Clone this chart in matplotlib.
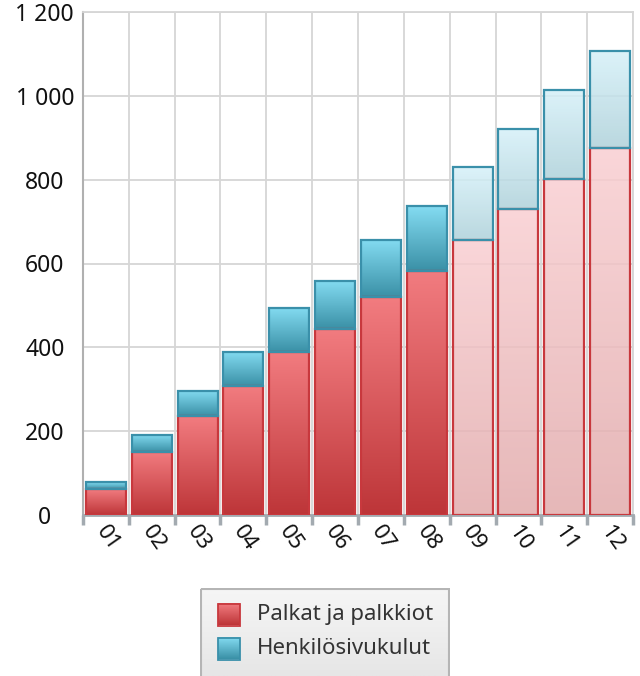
import numpy as np
import matplotlib
matplotlib.use("Agg")
import matplotlib.pyplot as plt
from matplotlib.patches import Rectangle
from matplotlib.colors import LinearSegmentedColormap

plt.rcParams['font.family'] = ['Noto Sans', 'DejaVu Sans']

months = ["01", "02", "03", "04", "05", "06", "07", "08", "09", "10", "11", "12"]
palkat = [62, 151, 235, 308, 389, 444, 520, 583, 657, 730, 802, 875]
sivukulut = [16, 41, 62, 82, 105, 115, 137, 154, 173, 192, 213, 232]
forecast = [False] * 8 + [True] * 4
series_names = ["Palkat ja palkkiot", "Henkilösivukulut"]
yticks = [0, 200, 400, 600, 800, 1000, 1200]

fig = plt.figure(figsize=(6.4, 6.76), dpi=100)
ax = fig.add_axes([83/640, 1 - 515/676, (633-83)/640, (515-12)/676])

n = len(months)

def grad(c_top, c_bot):
    return LinearSegmentedColormap.from_list("g", [c_bot, c_top])

red_actual = grad("#f27c80", "#bd3538")
blue_actual = grad("#84dcf2", "#3a90a6")
red_fc = grad("#f9cfd2", "#e2abac")
blue_fc = grad("#d6f1f9", "#aed1da")
g = np.linspace(0, 1, 256).reshape(-1, 1)

width = 0.87
for i in range(n):
    x0 = i - width / 2
    x1 = i + width / 2
    r = palkat[i]
    b = sivukulut[i]
    if forecast[i]:
        rc, bc, al = red_fc, blue_fc, 0.85
    else:
        rc, bc, al = red_actual, blue_actual, 1.0
    ax.imshow(g, cmap=rc, extent=[x0, x1, 0, r], origin="lower", aspect="auto",
              zorder=2, alpha=al, interpolation="bilinear")
    ax.add_patch(Rectangle((x0, 0), width, r, fill=False, edgecolor="#c8383d", lw=1.6, zorder=3))
    ax.imshow(g, cmap=bc, extent=[x0, x1, r, r + b], origin="lower", aspect="auto",
              zorder=2, alpha=al, interpolation="bilinear")
    ax.add_patch(Rectangle((x0, r), width, b, fill=False, edgecolor="#3a90aa", lw=1.6, zorder=3))

ax.set_xlim(-0.5, n - 0.5)
ax.set_ylim(0, 1200)

# grid
for yv in yticks[1:]:
    ax.axhline(yv, color="#d6d6d6", lw=1.3, zorder=1)
for xv in np.arange(0.5, n, 1.0):
    ax.axvline(xv, color="#d6d6d6", lw=1.3, zorder=1)

ax.set_yticks(yticks)
ax.set_yticklabels([f"{v:,}".replace(",", " ") for v in yticks], fontsize=16.5,
                   color="#111111", ha="center")
ax.tick_params(axis="y", length=0, pad=27.5)

ax.set_xticks(np.arange(-0.5, n, 1.0))
ax.set_xticklabels([])
ax.tick_params(axis="x", length=7, width=2.5, color="#a3aab0", direction="out")

for i, m in enumerate(months):
    ax.annotate(m, xy=(i, 0), xycoords=("data", "axes fraction"),
                xytext=(2, -5), textcoords="offset points",
                rotation=-55, rotation_mode="anchor", ha="left", va="top",
                fontsize=16, color="#111111", annotation_clip=False)

for s in ["top", "right"]:
    ax.spines[s].set_color("#d6d6d6")
    ax.spines[s].set_linewidth(1.3)
ax.spines["left"].set_color("#b0b0b0")
ax.spines["left"].set_linewidth(1.5)
ax.spines["bottom"].set_color("#a3aab0")
ax.spines["bottom"].set_linewidth(2)

# legend
lax = fig.add_axes([200/640, 0, 250/640, 88/676])
lax.axis("off")
bg = np.linspace(0, 1, 64).reshape(-1, 1)
lax.imshow(bg, cmap=LinearSegmentedColormap.from_list("lg", ["#f6f6f6", "#e6e6e6"]),
           extent=[0, 250, 88, 0], aspect="auto", zorder=0)
lax.add_patch(Rectangle((1, 1), 248, 90, fill=False, edgecolor="#b5b5b5", lw=1.5, zorder=1))
sq = np.linspace(0, 1, 64).reshape(-1, 1)
for k, (cm, ec, name) in enumerate([(red_actual, "#c8383d", series_names[0]),
                                    (blue_actual, "#3a90aa", series_names[1])]):
    yc = 26.5 + k * 34
    lax.imshow(sq, cmap=cm, extent=[18, 40, yc + 11, yc - 11], aspect="auto",
               origin="lower", zorder=2)
    lax.add_patch(Rectangle((18, yc - 11), 22, 22, fill=False, edgecolor=ec, lw=1.3, zorder=3))
    lax.text(57, yc, name, fontsize=16, va="center", ha="left", color="#333333")
lax.set_xlim(0, 250)
lax.set_ylim(88, 0)

fig.savefig("out.png", dpi=100)
